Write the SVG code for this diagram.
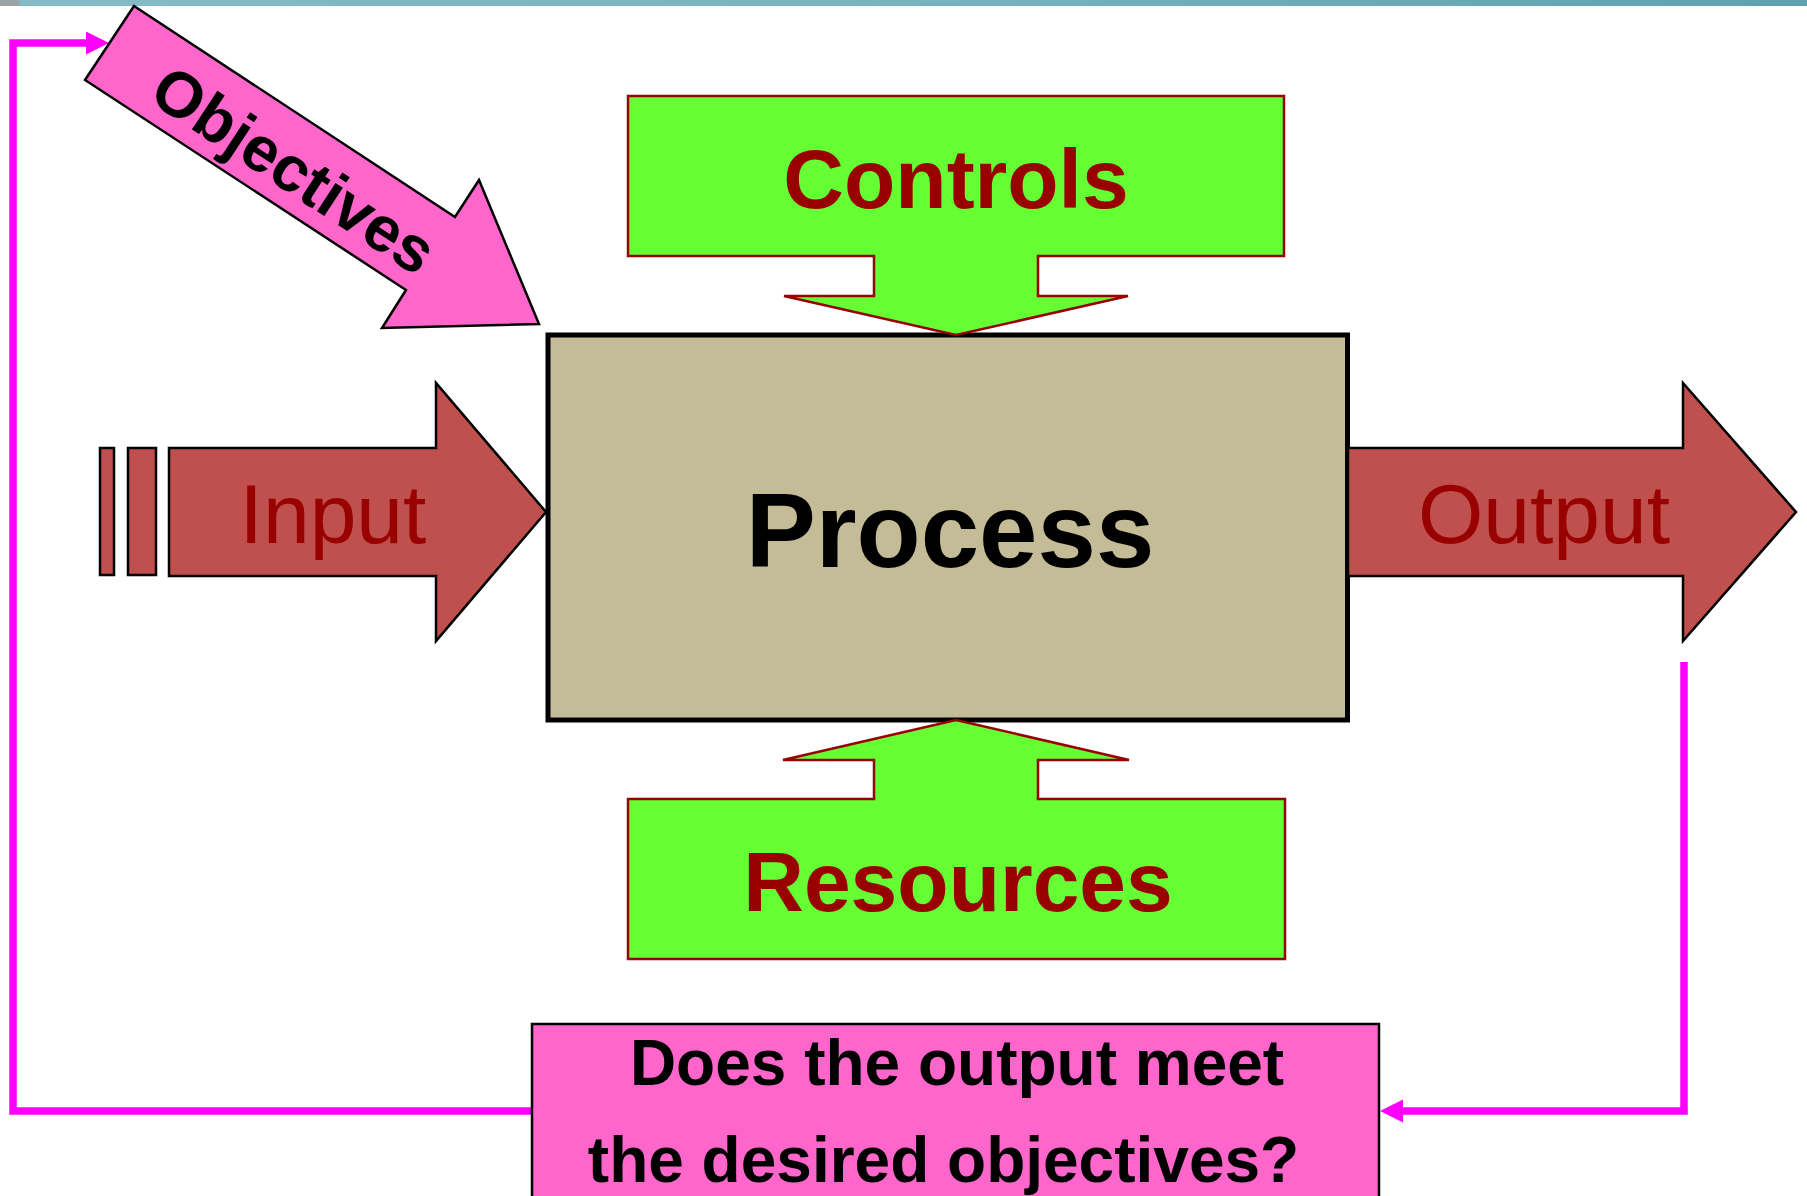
<svg xmlns="http://www.w3.org/2000/svg" width="1807" height="1196" viewBox="0 0 1807 1196">
<defs>
<linearGradient id="topbar" x1="0" y1="0" x2="1" y2="0">
<stop offset="0" stop-color="#84bcc8"/>
<stop offset="0.5" stop-color="#78b3c0"/>
<stop offset="1" stop-color="#5ea2b2"/>
</linearGradient>
<marker id="mag" markerUnits="userSpaceOnUse" markerWidth="24" markerHeight="24" refX="2" refY="11.5" orient="auto">
<path d="M0,0 L23,11.5 L0,23 Z" fill="#ff00ff"/>
</marker>
</defs>
<style>
.green{fill:#66ff33;stroke:#990000;stroke-width:2.5;stroke-linejoin:miter}
.red{fill:#c0504d;stroke:#000;stroke-width:2.5;stroke-linejoin:miter}
.pink{fill:#ff66cc;stroke:#000;stroke-width:2.5}
.conn{fill:none;stroke:#ff00ff;stroke-width:7.5;stroke-linejoin:miter;stroke-linecap:butt}
.bold{font-family:"Liberation Sans",Arial,sans-serif;font-weight:bold}
.reg{font-family:"Liberation Sans",Arial,sans-serif;font-weight:normal}
</style>
<rect x="0" y="0" width="1807" height="1196" fill="#ffffff"/>
<rect x="0" y="0" width="1807" height="6" fill="url(#topbar)"/>
<rect x="0" y="0" width="19" height="6" fill="#9aa3a6"/>

<g id="connectors">
<path class="conn" d="M531,1111 H13 V43 H88" marker-end="url(#mag)"/>
<path class="conn" d="M1684,662 V1111 H1401" marker-end="url(#mag)"/>
</g>

<g id="process">
<rect x="548" y="335" width="799.5" height="385" fill="#c4bc96" stroke="#000" stroke-width="5"/>
<text class="bold" x="950" y="567" font-size="105" text-anchor="middle" fill="#000">Process</text>
</g>

<g id="controls">
<path class="green" d="M628,96 H1284 V256 H1038 V296 H1128 L956,335 L784,296 H874 V256 H628 Z"/>
<text class="bold" x="956" y="208" font-size="84" text-anchor="middle" fill="#990000">Controls</text>
</g>

<g id="resources">
<path class="green" d="M628,959 H1285 V799 H1038 V760 H1129 L956,720 L783,760 H874 V799 H628 Z"/>
<text class="bold" x="958" y="911" font-size="84" text-anchor="middle" fill="#990000">Resources</text>
</g>

<g id="input">
<rect class="red" x="100" y="448" width="14" height="127"/>
<rect class="red" x="128" y="448" width="28" height="127"/>
<polygon class="red" points="169,448 436,448 436,383 546,512 436,641 436,576 169,576"/>
<text class="reg" x="333" y="543" font-size="84" text-anchor="middle" fill="#990000">Input</text>
</g>

<g id="output">
<polygon class="red" points="1348,448 1683,448 1683,383 1796,512 1683,641 1683,576 1348,576"/>
<text class="reg" x="1544" y="543" font-size="84" text-anchor="middle" fill="#990000">Output</text>
</g>

<g id="objectives">
<polygon class="pink" points="134,6 455,217 479,180 539,324 382,328 406,290 85,80"/>
<text class="bold" transform="translate(294,170) rotate(33.2)" x="0" y="22" font-size="64" text-anchor="middle" fill="#000">Objectives</text>
</g>

<g id="question">
<rect class="pink" x="532" y="1024" width="847" height="200"/>
<text class="bold" x="957" y="1085" font-size="64" text-anchor="middle" fill="#000">Does the output meet</text>
<text class="bold" x="943.5" y="1182" font-size="64" text-anchor="middle" fill="#000">the desired objectives?</text>
</g>
</svg>
